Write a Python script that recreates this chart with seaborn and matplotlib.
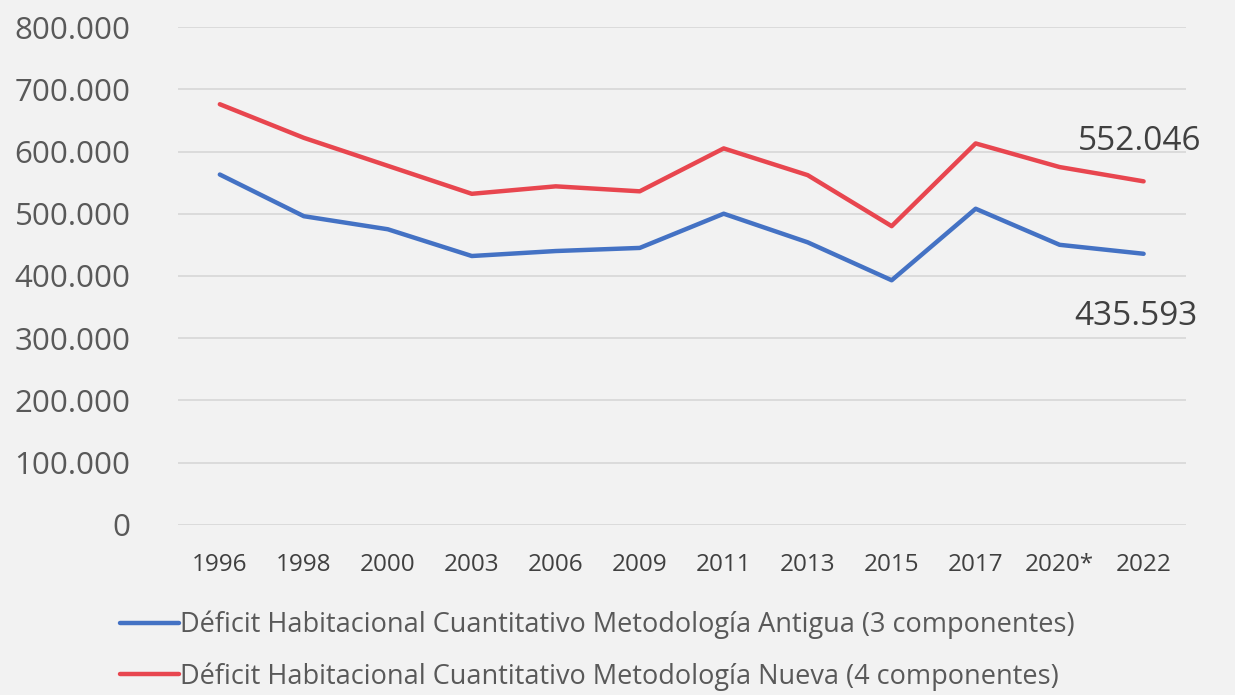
import matplotlib
matplotlib.use("Agg")
import matplotlib.pyplot as plt
import seaborn as sns
import pandas as pd

# datos
anios = ["1996", "1998", "2000", "2003", "2006", "2009", "2011", "2013", "2015", "2017", "2020*", "2022"]
antigua = [563000, 496000, 475000, 432000, 440000, 445000, 500000, 454000, 393000, 508000, 450000, 435593]
nueva = [676000, 622000, 577000, 532000, 544000, 536000, 605000, 562000, 480000, 613000, 575000, 552046]
serie_antigua = "Déficit Habitacional Cuantitativo Metodología Antigua (3 componentes)"
serie_nueva = "Déficit Habitacional Cuantitativo Metodología Nueva (4 componentes)"
yticks = [0, 100000, 200000, 300000, 400000, 500000, 600000, 700000, 800000]

fondo = "#f2f2f2"
gris_texto = "#404040"

sns.set_style("white", {"axes.facecolor": fondo, "figure.facecolor": fondo})
plt.rcParams["font.family"] = ["Open Sans", "DejaVu Sans"]

df = pd.DataFrame({
    "anio": anios * 2,
    "valor": antigua + nueva,
    "serie": [serie_antigua] * len(anios) + [serie_nueva] * len(anios),
})

fig = plt.figure(figsize=(12.35, 6.95), dpi=100)
ax = fig.add_axes([0.144, 0.245, 0.816, 0.716])

paleta = {serie_antigua: "#4472C4", serie_nueva: "#E8464F"}
sns.lineplot(data=df, x="anio", y="valor", hue="serie", palette=paleta,
             linewidth=3.2, sort=False, ax=ax, legend=True)

ax.set_xlim(-0.5, len(anios) - 0.5)
ax.set_ylim(0, 800000)
ax.set_yticks(yticks)
ax.set_yticklabels(["0" if v == 0 else f"{v // 1000}.000" for v in yticks])
ax.yaxis.grid(True, color="#d9d9d9", linewidth=1.3)
ax.set_axisbelow(True)
for s in ax.spines.values():
    s.set_visible(False)
ax.set_xlabel("")
ax.set_ylabel("")
ax.tick_params(axis="y", labelsize=22.5, labelcolor="#595959", length=0, pad=34)
ax.tick_params(axis="x", labelsize=17.5, labelcolor=gris_texto, length=0, pad=20)

# etiquetas del ultimo valor
ax.annotate("552.046", (len(anios) - 1, nueva[-1]), xytext=(-4, 40),
            textcoords="offset pixels", ha="center", va="center",
            fontsize=24, color=gris_texto)
ax.annotate("435.593", (len(anios) - 1, antigua[-1]), xytext=(-8, -63),
            textcoords="offset pixels", ha="center", va="center",
            fontsize=24, color=gris_texto)

handles, labels = ax.get_legend_handles_labels()
ax.get_legend().remove()
fig.legend(handles, labels, loc="upper left", bbox_to_anchor=(0.088, 0.137),
           frameon=False, fontsize=19.5, labelcolor="#595959",
           handlelength=2.2, handletextpad=0.05, labelspacing=0.85,
           borderaxespad=0)

fig.savefig("out.png", dpi=100, facecolor=fondo)
